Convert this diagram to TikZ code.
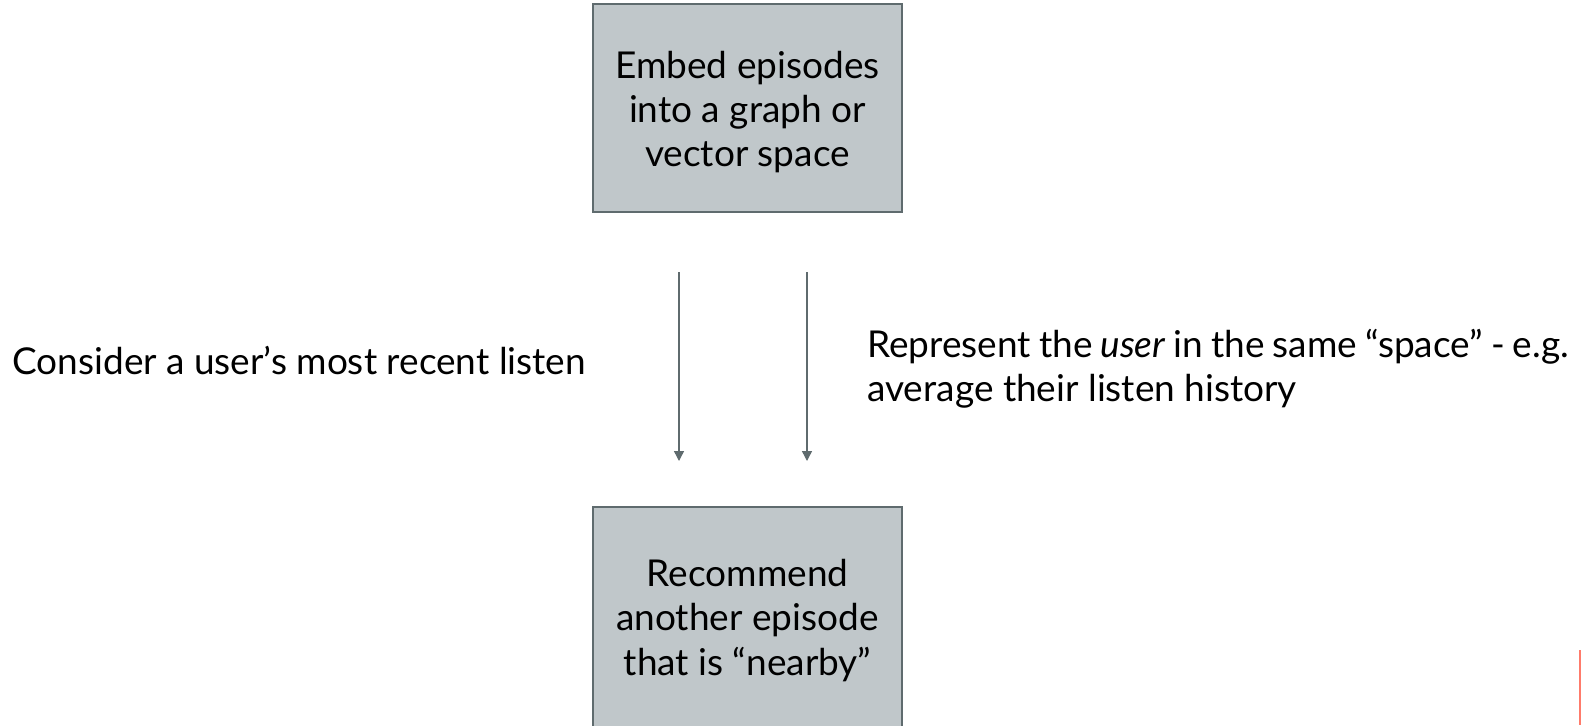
\documentclass[tikz,border=0pt]{standalone}
\usepackage{fontspec}
\setmainfont{Lato}
\usetikzlibrary{arrows.meta}
\definecolor{boxfill}{HTML}{C0C7CA}
\definecolor{edge}{HTML}{5F6B6E}
\definecolor{accent}{HTML}{FF7B6B}
\begin{document}
\begin{tikzpicture}[x=0.5pt,y=-0.5pt,
  stepbox/.style={draw=edge,line width=0.8pt,fill=boxfill,inner sep=0pt},
  txt/.style={font=\fontsize{18.5}{22.2}\selectfont,text=black,inner sep=0pt},
  flow/.style={draw=edge,line width=0.7pt,-{Triangle[length=5pt,width=5pt]}}]
\useasboundingbox (0,0) rectangle (1581,725);
% boxes
\draw[stepbox] (593,4) rectangle (902,212);
\node[txt,align=center] (embed) at (747.5,112) {Embed episodes\\into a graph or\\vector space};
\draw[stepbox] (593,507) rectangle (902,735);
\node[txt,align=center] (rec) at (747.5,620.5) {Recommend\\another episode\\that is “nearby”};
% arrows
\coordinate (a1s) at (679,272); \coordinate (a1e) at (679,461);
\coordinate (a2s) at (807,272); \coordinate (a2e) at (807,461);
\draw[flow] (a1s) -- (a1e);
\draw[flow] (a2s) -- (a2e);
% side labels
\node[txt,anchor=west] (left) at (12,360) {Consider a user’s most recent listen};
\node[txt,anchor=west,align=left] (right) at (867,368.5)
  {\spaceskip=4pt plus 1pt Represent the \emph{user} in the same “space” - e.g.\\average their listen history};
% accent bar
\fill[accent] (1579,650) rectangle (1581,725);
\end{tikzpicture}
\end{document}
